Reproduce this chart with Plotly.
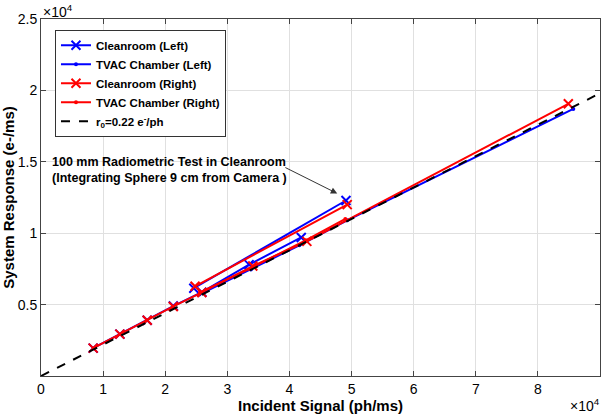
import plotly.graph_objects as go

# ---- data ----
clean_left_x = [8400, 12700, 17100, 21300, 25900, 33500, 41900]
clean_left_y = [1950, 2930, 3900, 4900, 5870, 7800, 9700]
clean_left_up_x = [24600, 49100]
clean_left_up_y = [6150, 12290]

tvac_left_x = [25500, 33800, 41600, 49300, 85700]
tvac_left_y = [5700, 7450, 9150, 10900, 18700]

clean_right_x = [8400, 12700, 17100, 21300, 25900, 34100, 42800, 84900]
clean_right_y = [1950, 2930, 3900, 4870, 5850, 7700, 9430, 19060]
clean_right_up_x = [24800, 49300]
clean_right_up_y = [6280, 12000]

tvac_right_x = [25600, 34200, 42600, 49000]
tvac_right_y = [5850, 7650, 9500, 11000]

r0 = 0.22
ref_x = [0, 90000]
ref_y = [v * r0 for v in ref_x]

x_ticks = [0, 10000, 20000, 30000, 40000, 50000, 60000, 70000, 80000, 90000]
x_ticktext = ["0", "1", "2", "3", "4", "5", "6", "7", "8", "9"]
y_ticks = [5000, 10000, 15000, 20000, 25000]
y_ticktext = ["0.5", "1", "1.5", "2", "2.5"]

BLUE = "#0000FF"
RED = "#FF0000"
FONT = "Liberation Sans"

fig = go.Figure()

def xmark(color):
    return dict(symbol="x-thin", size=9, color=color, line=dict(width=2, color=color))

def dotmark(color):
    return dict(symbol="circle", size=4, color=color)

# Cleanroom Left
fig.add_trace(go.Scatter(x=clean_left_x, y=clean_left_y, mode="lines+markers",
                         name="<b>Cleanroom (Left)</b>", line=dict(color=BLUE, width=2),
                         marker=xmark(BLUE), legendrank=1))
fig.add_trace(go.Scatter(x=clean_left_up_x, y=clean_left_up_y, mode="lines+markers",
                         showlegend=False, line=dict(color=BLUE, width=2), marker=xmark(BLUE)))
# TVAC Left
fig.add_trace(go.Scatter(x=tvac_left_x, y=tvac_left_y, mode="lines+markers",
                         name="<b>TVAC Chamber (Left)</b>", line=dict(color=BLUE, width=2),
                         marker=dotmark(BLUE), legendrank=2))
# Cleanroom Right
fig.add_trace(go.Scatter(x=clean_right_x, y=clean_right_y, mode="lines+markers",
                         name="<b>Cleanroom (Right)</b>", line=dict(color=RED, width=2),
                         marker=xmark(RED), legendrank=3))
fig.add_trace(go.Scatter(x=clean_right_up_x, y=clean_right_up_y, mode="lines+markers",
                         showlegend=False, line=dict(color=RED, width=2), marker=xmark(RED)))
# TVAC Right
fig.add_trace(go.Scatter(x=tvac_right_x, y=tvac_right_y, mode="lines+markers",
                         name="<b>TVAC Chamber (Right)</b>", line=dict(color=RED, width=2),
                         marker=dotmark(RED), legendrank=4))
# reference line
fig.add_trace(go.Scatter(x=ref_x, y=ref_y, mode="lines",
                         name="<b>r<sub>0</sub>=0.22 e<sup>-</sup>/ph</b>",
                         line=dict(color="black", width=2, dash="dash"), legendrank=5))

axis_common = dict(
    showgrid=True, gridcolor="#e0e0e0", gridwidth=1, automargin=False,
    zeroline=False, showline=True, linecolor="#444444", linewidth=1, mirror="ticks",
    ticks="inside", ticklen=5, tickcolor="#444444",
    tickfont=dict(family=FONT, size=14, color="black"),
    tickprefix="<b>", ticksuffix="</b>",
)

fig.update_xaxes(range=[0, 90000], tickvals=x_ticks, ticktext=x_ticktext,
                 title=dict(text="<b>Incident Signal (ph/ms)</b>", standoff=0,
                            font=dict(family=FONT, size=15, color="black")),
                 **axis_common)
fig.update_yaxes(range=[0, 25000], tickvals=y_ticks, ticktext=y_ticktext,
                 title=dict(text="<b>System Response (e-/ms)</b>", standoff=0,
                            font=dict(family=FONT, size=15, color="black")),
                 **axis_common)

# exponent labels
fig.add_annotation(xref="paper", yref="paper", x=0, y=1, xanchor="left", yanchor="bottom",
                   text="×10<sup>4</sup>", showarrow=False, yshift=-3,
                   font=dict(family=FONT, size=14, color="black"))
fig.add_annotation(xref="paper", yref="paper", x=1, y=0, xanchor="right", yanchor="top",
                   text="×10<sup>4</sup>", showarrow=False, yshift=-18, xshift=2,
                   font=dict(family=FONT, size=14, color="black"))

# annotation text + arrow
fig.add_annotation(x=1500, y=15650, xref="x", yref="y", xanchor="left", yanchor="top",
                   text="<b>100 mm Radiometric Test in Cleanroom<br>(Integrating Sphere 9 cm from Camera )</b>",
                   showarrow=False, align="left",
                   font=dict(family=FONT, size=12.5, color="black"))
fig.add_annotation(x=47700, y=12780, ax=39100, ay=14650, xref="x", yref="y",
                   axref="x", ayref="y", text="", showarrow=True,
                   arrowhead=2, arrowsize=1.3, arrowwidth=1, arrowcolor="#333333")

fig.update_layout(
    width=603, height=414,
    margin=dict(l=41, r=3, t=19, b=38),
    paper_bgcolor="white", plot_bgcolor="white",
    font=dict(family=FONT, color="black"),
    legend=dict(x=0.025, y=0.97, xanchor="left", yanchor="top",
                bordercolor="#333333", borderwidth=1, bgcolor="white",
                font=dict(family=FONT, size=11.5, color="black"),
                tracegroupgap=0, itemwidth=30),
)

fig.write_html("out.html", config={"displayModeBar": False},
               post_script="document.body.style.margin='0';")
